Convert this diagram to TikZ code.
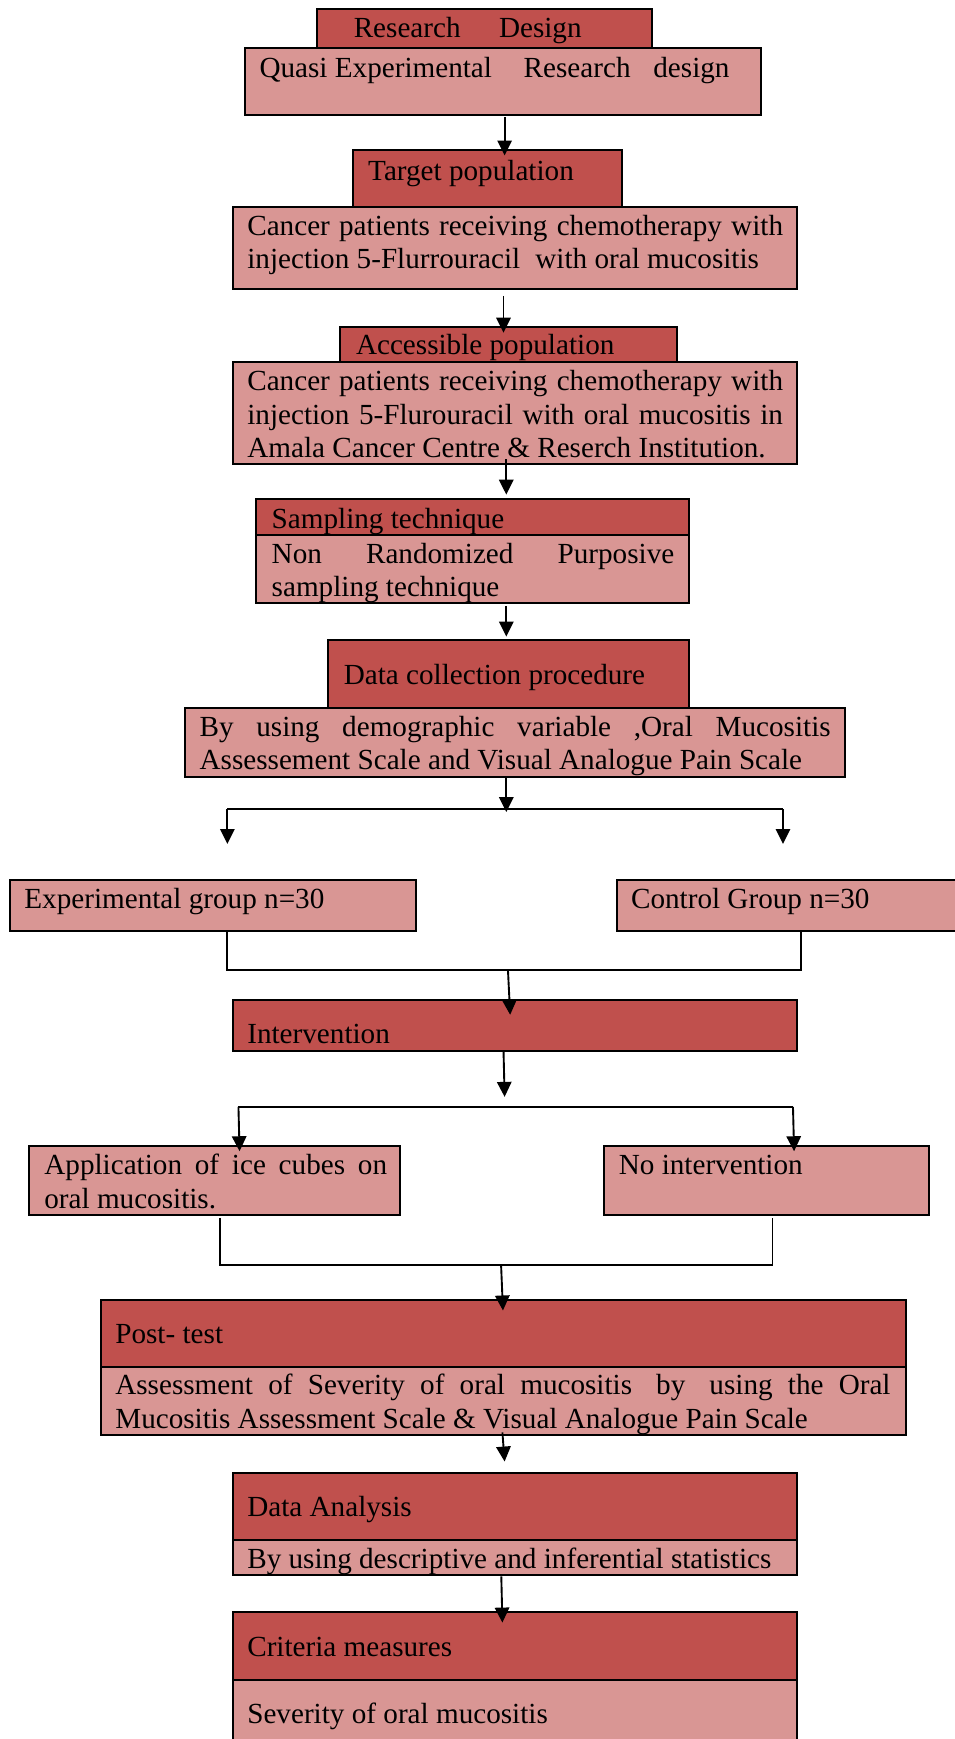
\documentclass[tikz,border=0pt]{standalone}
\usepackage{fontspec}
\setmainfont{Liberation Serif}
\usetikzlibrary{arrows.meta,calc}
\definecolor{dk}{HTML}{C0504D}
\definecolor{lt}{HTML}{D99694}
\newcommand\tlines[1]{\vtop{\baselineskip=30pt\lineskiplimit=-20pt\lineskip=0pt #1}}
\tikzset{
  boxbase/.style={draw=black, line width=1.8pt, rectangle, inner sep=0pt, outer sep=0pt, anchor=north west},
  dkbox/.style={boxbase, fill=dk},
  ltbox/.style={boxbase, fill=lt},
  txt/.style={inner sep=0pt, outer sep=0pt, anchor=base west, yshift=-1.5pt, font=\fontsize{26.3}{30}\selectfont},
  conn/.style={line width=1.7pt},
  arr/.style={line width=1.7pt, -{Triangle[length=13.5pt,width=13pt]}}
}
\begin{document}
\begin{tikzpicture}[x=1pt,y=-1pt]
\fill[white] (0,0) rectangle (861,1568);
\useasboundingbox (0,0) rectangle (861,1568);

% boxes
\node[dkbox, minimum width=302pt, minimum height=35.6pt] (rd) at (286,8) {};
\node[ltbox, minimum width=465pt, minimum height=60.1pt] (qd) at (221,43.6) {};
\node[dkbox, minimum width=243pt, minimum height=51.1pt] (tp) at (318,135.2) {};
\node[ltbox, minimum width=509pt, minimum height=74.5pt] (c1) at (210,186.3) {};
\node[dkbox, minimum width=303pt, minimum height=31.5pt] (ap) at (307,294.5) {};
\node[ltbox, minimum width=509pt, minimum height=92.3pt] (c2) at (210,326) {};
\node[dkbox, minimum width=390pt, minimum height=32.1pt] (st) at (231,450.2) {};
\node[ltbox, minimum width=390pt, minimum height=61pt] (sl) at (231,482.3) {};
\node[dkbox, minimum width=325pt, minimum height=61pt] (dc) at (296,577) {};
\node[ltbox, minimum width=595pt, minimum height=62.2pt] (du) at (167,638) {};
\node[ltbox, minimum width=366pt, minimum height=45.6pt] (eg) at (9,793.4) {};
\node[ltbox, minimum width=344pt, minimum height=45.6pt] (cg) at (556,793.4) {};
\node[dkbox, minimum width=509pt, minimum height=45.6pt] (iv) at (210,901.6) {};
\node[ltbox, minimum width=335pt, minimum height=62.4pt] (ai) at (26,1033) {};
\node[ltbox, minimum width=293pt, minimum height=62.4pt] (ni) at (545,1033) {};
\node[dkbox, minimum width=726pt, minimum height=60.7pt] (pt) at (91,1172) {};
\node[ltbox, minimum width=726pt, minimum height=61.6pt] (pl) at (91,1232.7) {};
\node[dkbox, minimum width=509pt, minimum height=60.7pt] (da) at (210,1327.7) {};
\node[ltbox, minimum width=509pt, minimum height=31.6pt] (dl) at (210,1388.4) {};
\node[dkbox, minimum width=509pt, minimum height=61pt] (cm) at (210,1453.6) {};
\node[ltbox, minimum width=509pt, minimum height=70pt] (cl) at (210,1514.6) {};

% texts
\node[txt] (trd) at (319,32.2) {Research\hspace{28pt} Design};
\node[txt] (tqd) at (234,68.5) {Quasi Experimental\hspace{22pt} Research\hspace{14pt} design};
\node[txt] (ttp) at (332,160.8) {Target population};
\node[txt] (tc1) at (223,210.4) {\tlines{\hbox to 483pt{Cancer patients receiving chemotherapy with}\hbox{injection 5-Flurrouracil\hspace{7pt} with oral mucositis}}};
\node[txt] (tap) at (321,318.5) {Accessible population};
\node[txt] (tc2) at (223,351) {\tlines{\hbox to 483pt{Cancer patients receiving chemotherapy with}\hbox to 483pt{injection 5-Flurouracil with oral mucositis in}\hbox{Amala Cancer Centre \& Reserch Institution.}}};
\node[txt] (tst) at (245,474.8) {Sampling technique};
\node[txt] (tsl) at (245,506.4) {\tlines{\hbox to 363pt{Non Randomized Purposive}\hbox{sampling technique}}};
\node[txt] (tdc) at (310,616) {Data collection procedure};
\node[txt] (tdu) at (180,662.6) {\tlines{\hbox to 569pt{By using demographic variable ,Oral Mucositis}\hbox{Assessement Scale and Visual Analogue Pain Scale}}};
\node[txt] (teg) at (22,817.4) {Experimental group n=30};
\node[txt] (tcg) at (569,817.4) {Control Group n=30};
\node[txt] (tiv) at (223,939.7) {Intervention};
\node[txt] (tai) at (40,1057.8) {\tlines{\hbox to 309pt{Application of ice cubes on}\hbox{oral mucositis.}}};
\node[txt] (tni) at (558,1057.8) {No intervention};
\node[txt] (tpt) at (104,1210.2) {Post- test};
\node[txt] (tpl) at (104,1256.2) {\tlines{\hbox to 699pt{Assessment of Severity of oral mucositis\hspace{8pt} by\hspace{8pt} using the Oral}\hbox{Mucositis Assessment Scale \& Visual Analogue Pain Scale}}};
\node[txt] (tda) at (223,1365.9) {Data Analysis};
\node[txt] (tdl) at (223,1412.5) {By using descriptive and inferential statistics};
\node[txt] (tcm) at (223,1492.1) {Criteria measures};
\node[txt] (tcl) at (223,1552.2) {Severity of oral mucositis};

% connectors
\draw[arr] ($(qd.south)+(1.5,2)$) -- ($(tp.north)+(15.5,5)$);
\draw[arr] ($(c1.south)+(-10.5,6)$) -- ($(ap.north)+(-4.5,5.5)$);
\draw[arr] ($(c2.south)+(-8,-4)$) -- ($(st.north)+(30.5,-4.2)$);
\draw[arr] ($(sl.south)+(30.5,3)$) -- ($(dc.north)+(-2,-3)$);

\coordinate (s1L) at (205,729.5);
\coordinate (s1R) at (706,729.5);
\draw[arr] ($(du.south)+(-8,0)$) -- ($(du.south)+(-8,32)$);
\draw[conn] (s1L) -- (s1R);
\draw[arr] (s1L) -- ($(eg.north)+(13,-32.4)$);
\draw[arr] (s1R) -- ($(cg.north)+(-22,-32.4)$);

\coordinate (j1L) at (205,874.5);
\coordinate (j1R) at (722,874.5);
\coordinate (j1M) at (458,874.5);
\draw[conn] ($(eg.south)+(13,0)$) -- (j1L) -- (j1R) -- ($(cg.south)+(-6,0)$);
\draw[arr] (j1M) -- ($(iv.north)+(-4.5,13.4)$);

\coordinate (s2L) at (215,998);
\coordinate (s2R) at (715,998);
\draw[arr] ($(iv.south)+(-10.5,0)$) -- ($(iv.south)+(-9.5,41.8)$);
\draw[conn] (s2L) -- (s2R);
\draw[arr] (s2L) -- ($(ai.north)+(22.5,5)$);
\draw[arr] (s2R) -- ($(ni.north)+(24.5,5)$);

\coordinate (j2L) at (198,1140.4);
\coordinate (j2R) at (696.5,1140.4);
\coordinate (j2M) at (451.8,1140.4);
\draw[conn] ($(ai.south)+(4.5,2.6)$) -- (j2L) -- (j2R) -- ($(ni.south)+(5,2.6)$);
\draw[arr] (j2M) -- ($(pt.north)+(-0.5,9.6)$);

\draw[arr] ($(pl.south)+(-1,-2.7)$) -- ($(da.north)+(-9.5,-9.9)$);
\draw[arr] ($(dl.south)+(-12.5,1.4)$) -- ($(cm.north)+(-11.5,9.4)$);
\end{tikzpicture}
\end{document}
